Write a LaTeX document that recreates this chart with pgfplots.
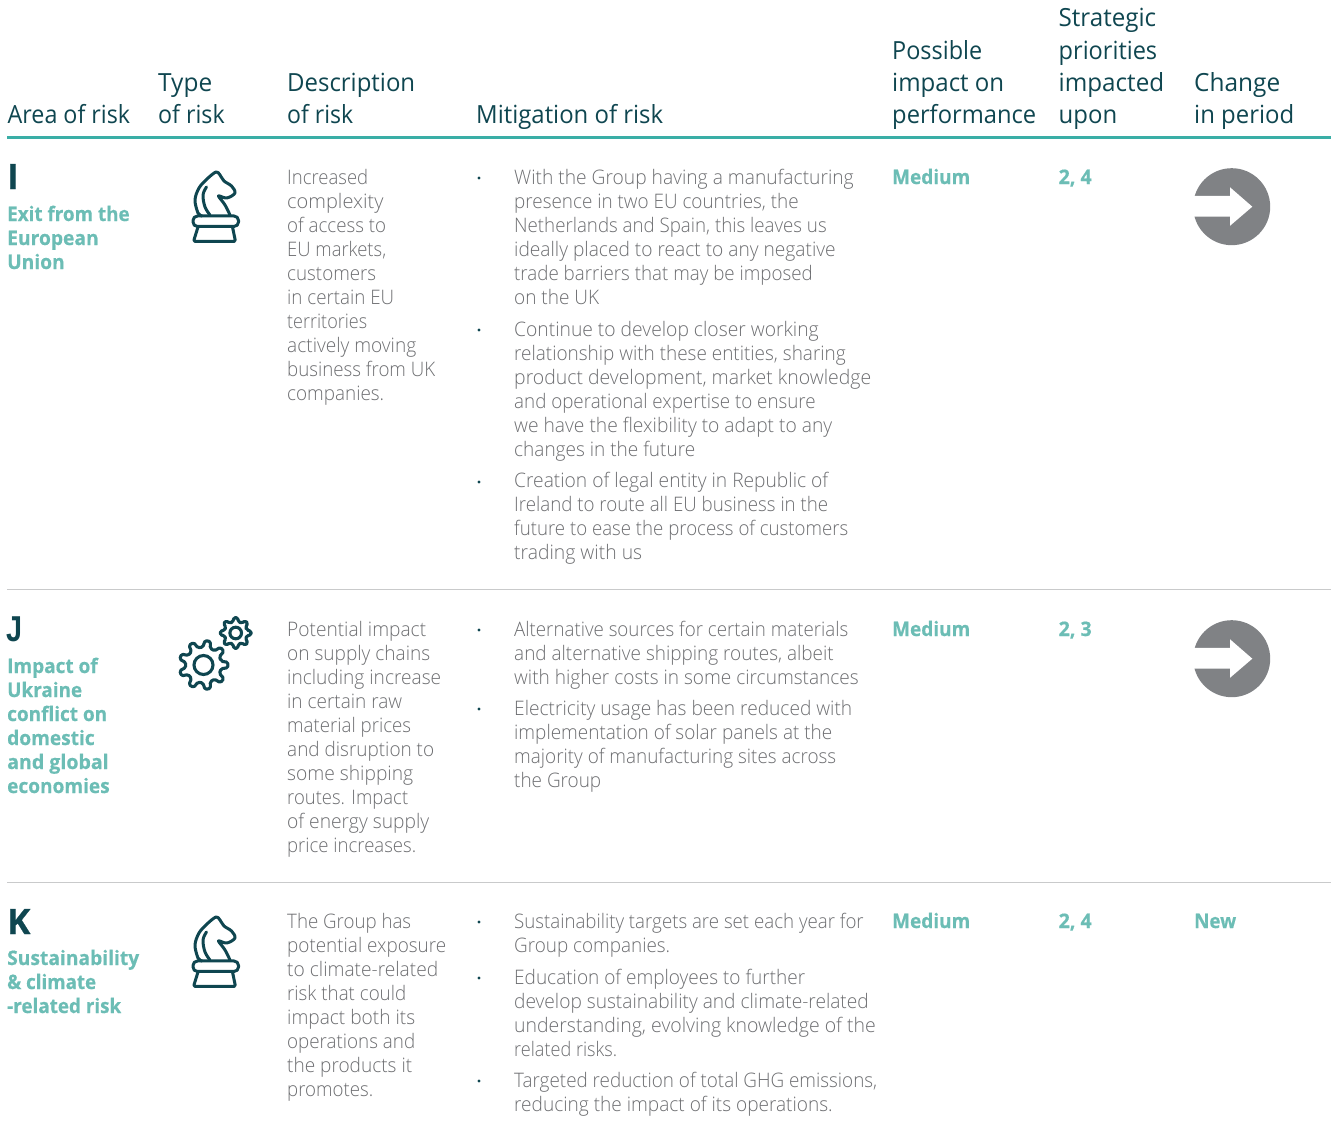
\documentclass[border=0pt]{standalone}
\usepackage{fontspec}
\usepackage{pgfplots}
\pgfplotsset{compat=1.18}
\setmainfont{Open Sans}
\newfontfamily\lightf{Open Sans Light}
\newfontfamily\regf{Open Sans}
\newfontfamily\boldf[BoldFeatures={FakeBold=0.6}]{Open Sans}
\newfontfamily\jf{Liberation Sans}
\definecolor{hdc}{HTML}{0F4650}
\definecolor{rulec}{HTML}{3AAEA6}
\definecolor{lbc}{HTML}{6CBDB5}
\definecolor{bdc}{HTML}{6D6E71}
\definecolor{linec}{HTML}{C9CACB}
\definecolor{arrc}{HTML}{808285}
% x, baseline y, right edge, text
\newcommand\hd[4]{\node[anchor=base west,inner sep=0pt,text=hdc,font=\regf\fontsize{25}{30}\selectfont] at (axis cs:#1,#2) {\resizebox{\dimexpr #3pt-#1pt\relax}{\height}{#4}};}
\newcommand\bd[4]{\node[anchor=base west,inner sep=0pt,text=bdc,font=\lightf\fontsize{20}{24}\selectfont] at (axis cs:#1,#2) {\resizebox{\dimexpr #3pt-#1pt\relax}{\height}{#4}};}
\newcommand\lb[4]{\node[anchor=base west,inner sep=0pt,text=lbc,font=\boldf\bfseries\fontsize{20}{24}\selectfont] at (axis cs:#1,#2) {\resizebox{\dimexpr #3pt-#1pt\relax}{\height}{#4}};}
\newcommand\bg[3]{\node[anchor=base west,inner sep=0pt,text=hdc,font=\boldf\bfseries\fontsize{35}{40}\selectfont] at (axis cs:#1,#2) {#3};}
\newcommand\bu[2]{\node[inner sep=0pt,circle,fill=hdc,minimum size=3.4pt] at (axis cs:#1,#2) {};}
\newcommand\knight[1]{%
\begin{scope}[x=1pt,y=-1pt,shift={(0pt,1138pt)},yshift=-#1pt,draw=hdc,line width=3pt,line cap=round,line join=round]
\draw plot[smooth,tension=0.55] coordinates {(230,215) (225,205) (219,197) (219.5,196) (227,198) (235,193) (231.5,186) (224,181) (220,175) (216,172) (207,179) (199,188) (195,200) (198,213) (202,216)};
\draw plot[smooth,tension=0.6] coordinates {(206.5,187) (203,195) (205,207) (210,215)};
\draw[rounded corners=4.5pt] (193,216) rectangle (238.5,226.5);
\draw[rounded corners=1.5pt] (198,227) -- (193.5,241.5) -- (235.5,241.5) -- (232.5,227);
\end{scope}}
\newcommand\arrowc[1]{%
\begin{scope}[x=1pt,y=-1pt,shift={(0pt,1138pt)},yshift=-#1pt]
\fill[arrc] (1231.7,206.7) circle[radius=38.5];
\fill[white] (1190,195.8) -- (1230,195.8) -- (1230,187.3) -- (1252.3,206.7) -- (1230,225.8) -- (1230,216.6) -- (1190,216.6) -- cycle;
\end{scope}}
\begin{document}
\begin{tikzpicture}
\path[use as bounding box] (0,0) rectangle (1336pt,1138pt);
\begin{axis}[hide axis,scale only axis,width=1336pt,height=1138pt,xmin=0,xmax=1336,ymin=0,ymax=1138,y dir=reverse,clip=false,anchor=south west,at={(0pt,0pt)}]
\addplot[rulec,line width=2.4pt,forget plot] coordinates {(7,137.5) (1331,137.5)};
\addplot[linec,line width=1pt,forget plot] coordinates {(7,589.5) (1331,589.5)};
\addplot[linec,line width=1pt,forget plot] coordinates {(7,882) (1331,882)};
% header
\hd{7.5}{123}{130}{Area of risk}
\hd{158}{91}{212}{Type}\hd{158}{123}{224.5}{of risk}
\hd{287}{91}{415}{Description}\hd{287}{123}{353}{of risk}
\hd{476}{123}{663}{Mitigation of risk}
\hd{892}{59}{982}{Possible}\hd{892}{91}{1004}{impact on}\hd{892}{123}{1036}{performance}
\hd{1058.5}{26}{1156}{Strategic}\hd{1058.5}{59}{1157}{priorities}\hd{1058.5}{91}{1164}{impacted}\hd{1058.5}{123}{1117}{upon}
\hd{1194}{91}{1280}{Change}\hd{1194}{123}{1294}{in period}
% area
\bg{7}{189}{I}
\lb{7}{221}{129.5}{Exit from the}\lb{7}{245}{98.5}{European}\lb{7}{269}{64.5}{Union}
\node[anchor=base west,inner sep=0pt,text=hdc,font=\jf\bfseries\fontsize{36}{40}\selectfont] at (axis cs:6,641) {\resizebox{16pt}{\height}{J}};
\lb{7}{673}{97.5}{Impact of}\lb{7}{697}{82}{Ukraine}\lb{7}{721}{107}{conflict on}\lb{7}{745}{94.5}{domestic}\lb{7}{769}{108.5}{and global}\lb{7}{793}{109.5}{economies}
\bg{7}{934}{K}
\lb{7}{965}{139}{Sustainability}\lb{7}{989}{96}{\&\ climate}\lb{7}{1013}{121}{-related risk}
% description I
\bd{287}{184}{368}{Increased}
\node[anchor=base west,inner sep=0pt,text=bdc,font=\lightf\fontsize{20}{24}\selectfont] at (axis cs:287,208) {complexity};
\bd{287}{232}{386}{of access to}\bd{287}{256}{386}{EU markets,}\bd{287}{280}{376}{customers}\bd{287}{304}{394}{in certain EU}\bd{287}{328}{367}{territories}\bd{287}{352}{416}{actively moving}\bd{287}{376}{435}{business from UK}\bd{287}{400}{384}{companies.}
% description J
\bd{287}{636}{426}{Potential impact}\bd{287}{660}{430}{on supply chains}\bd{287}{684}{441}{including increase}\bd{287}{708}{402}{in certain raw}\bd{287}{732}{411}{material prices}\bd{287}{756}{434}{and disruption to}\bd{287}{780}{413}{some shipping}\bd{287}{804}{408}{routes. Impact}\bd{287}{828}{429}{of energy supply}\bd{287}{852}{416}{price increases.}
% description K
\bd{287}{928}{411}{The Group has}\bd{287}{952}{446}{potential exposure}\bd{287}{976}{438}{to climate-related}\bd{287}{1000}{406}{risk that could}\bd{287}{1024}{415}{impact both its}\bd{287}{1048}{415}{operations and}\bd{287}{1072}{412}{the products it}\bd{287}{1096}{373}{promotes.}
% mitigation I
\bu{479}{178}
\bd{514}{184}{853.5}{With the Group having a manufacturing}\bd{514}{208}{798.5}{presence in two EU countries, the}\bd{514}{232}{826.5}{Netherlands and Spain, this leaves us}\bd{514}{256}{835.5}{ideally placed to react to any negative}\bd{514}{280}{812.5}{trade barriers that may be imposed}\bd{514}{304}{599}{on the UK}
\bu{479}{330}
\bd{514}{336}{818.5}{Continue to develop closer working}\bd{514}{360}{845.5}{relationship with these entities, sharing}\bd{514}{384}{871}{product development, market knowledge}\bd{514}{408}{815.5}{and operational expertise to ensure}\bd{514}{432}{832}{we have the flexibility to adapt to any}\bd{514}{456}{695}{changes in the future}
\bu{479}{482}
\bd{514}{487}{828}{Creation of legal entity in Republic of}\bd{514}{511}{828}{Ireland to route all EU business in the}\bd{514}{535}{848}{future to ease the process of customers}\bd{514}{559}{642}{trading with us}
% mitigation J
\bu{479}{630}
\bd{514}{636}{848}{Alternative sources for certain materials}\bd{514}{660}{833.5}{and alternative shipping routes, albeit}\bd{514}{684}{858.5}{with higher costs in some circumstances}
\bu{479}{709}
\bd{514}{715}{852}{Electricity usage has been reduced with}\bd{514}{739}{832}{implementation of solar panels at the}\bd{514}{763}{836}{majority of manufacturing sites across}\bd{514}{787}{601}{the Group}
% mitigation K
\bu{479}{922}
\bd{514}{928}{863.5}{Sustainability targets are set each year for}\bd{514}{952}{670}{Group companies.}
\bu{479}{978}
\bd{514}{984}{805}{Education of employees to further}\bd{514}{1008}{868.5}{develop sustainability and climate-related}\bd{514}{1032}{875.5}{understanding, evolving knowledge of the}\bd{514}{1056}{617}{related risks.}
\bu{479}{1081}
\bd{514}{1087}{877}{Targeted reduction of total GHG emissions,}\bd{514}{1111}{832.5}{reducing the impact of its operations.}
% impact etc
\lb{892}{184}{970}{Medium}\lb{892}{636}{970}{Medium}\lb{892}{928}{970}{Medium}
\lb{1058.5}{184}{1091.5}{2, 4}\lb{1058.5}{636}{1091.5}{2, 3}\lb{1058.5}{928}{1091.5}{2, 4}
\lb{1194}{928}{1236}{New}
\end{axis}
\knight{0}
\knight{745}
\arrowc{0}
\arrowc{452}
\begin{scope}[x=1pt,y=-1pt,shift={(0pt,1138pt)}]
\foreach \cx/\cy/\ro/\ri/\rh/\n in {203.5/665/24.5/18/9.5/9,235.7/633/15.5/11.5/5.8/8}{
 \pgfmathsetmacro\st{360/\n}
 \draw[hdc,line width=3.1pt,line join=round,rounded corners=1.5pt]
   ([shift={(\cx,\cy)}]-0.3*\st:\ri)
   \foreach \k [evaluate=\k as \a using (\k-1)*\st] in {1,...,\n}{
     -- ([shift={(\cx,\cy)}]\a-0.3*\st:\ri)
     -- ([shift={(\cx,\cy)}]\a-0.16*\st:\ro)
     -- ([shift={(\cx,\cy)}]\a+0.16*\st:\ro)
     -- ([shift={(\cx,\cy)}]\a+0.3*\st:\ri)
   } -- cycle;
 \draw[hdc,line width=3.1pt] (\cx,\cy) circle[radius=\rh];
}
\end{scope}
\end{tikzpicture}
\end{document}
